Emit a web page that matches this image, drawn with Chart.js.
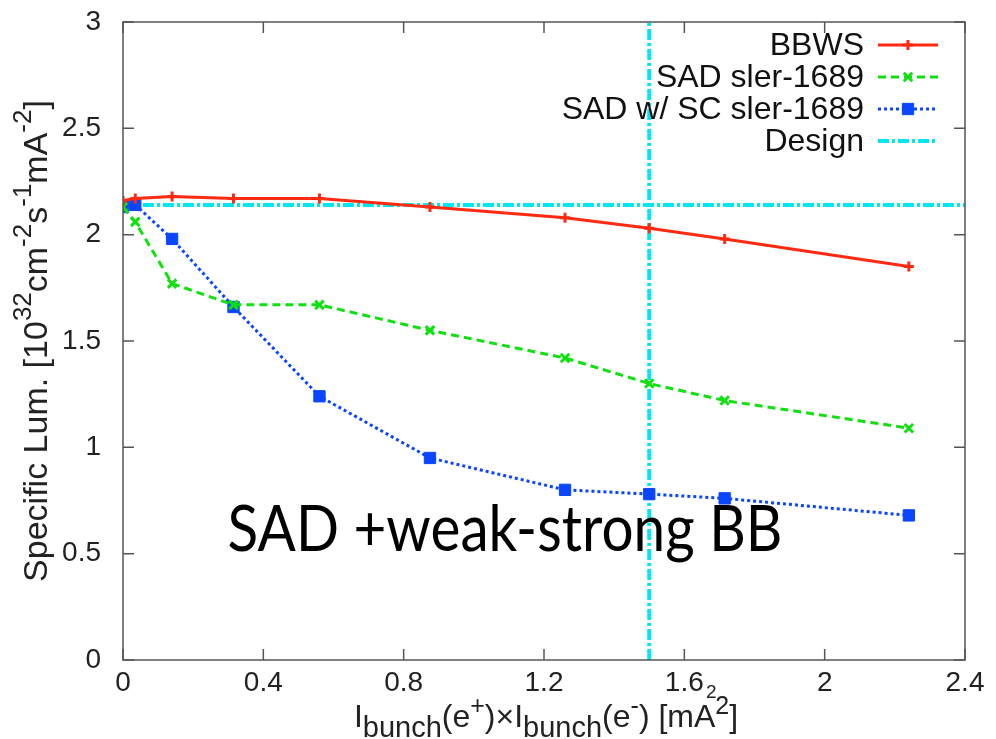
<!DOCTYPE html>
<html lang="en">
<head>
<meta charset="UTF-8">
<title>Specific luminosity</title>
<script src="https://cdn.jsdelivr.net/npm/chart.js"></script>
<style>
  body { margin: 0; background: #fff; }
  #lumi-chart { display: block; }
</style>
</head>
<body>
<canvas id="lumi-chart" width="996" height="739"></canvas>
<script>
// bunch current product I+ x I- [mA^2]
const currentProduct = [0, 0.035, 0.14, 0.315, 0.56, 0.875, 1.26, 1.5, 1.715, 2.24];
// specific luminosity [1e32 cm^-2 s^-1 mA^-2]
const lumBBWS  = [2.16, 2.17, 2.18, 2.17, 2.17, 2.13, 2.08, 2.03, 1.98, 1.85];
const lumSAD   = [2.13, 2.06, 1.77, 1.67, 1.67, 1.55, 1.42, 1.30, 1.22, 1.09];
const lumSADSC = [2.13, 2.14, 1.98, 1.66, 1.24, 0.95, 0.80, 0.78, 0.76, 0.68];
const designLum = 2.14;
const designCurrent = 1.5;

const xTicks = [0, 0.4, 0.8, 1.2, 1.6, 2, 2.4];
const yTicks = [0, 0.5, 1, 1.5, 2, 2.5, 3];
const seriesNames = ['BBWS', 'SAD sler-1689', 'SAD w/ SC sler-1689', 'Design'];
const overlayText = 'SAD +weak-strong BB';

const FONT = '"Liberation Sans", Arial, sans-serif';
const RED = '#ff2a10', GREEN = '#10e010', BLUE = '#0a46ff', CYAN = '#00e6f2';

const pts = ys => currentProduct.map((x, i) => ({ x: x, y: ys[i] }));

const datasets = [
  { label: seriesNames[0], data: pts(lumBBWS), borderColor: RED, backgroundColor: RED,
    borderWidth: 3, pointStyle: 'cross', pointRadius: 5, pointBorderWidth: 3 },
  { label: seriesNames[1], data: pts(lumSAD), borderColor: GREEN, backgroundColor: GREEN,
    borderWidth: 3, borderDash: [8, 5], pointStyle: 'crossRot', pointRadius: 6, pointBorderWidth: 3 },
  { label: seriesNames[2], data: pts(lumSADSC), borderColor: BLUE, backgroundColor: BLUE,
    borderWidth: 3, borderDash: [3, 3], pointStyle: 'rect', pointRadius: 8, pointBorderWidth: 1 },
  // design value: horizontal luminosity line and vertical current line
  { label: seriesNames[3], data: [{ x: 0, y: designLum }, { x: 2.4, y: designLum }],
    borderColor: CYAN, borderWidth: 4, borderDash: [11, 3, 3, 3], pointRadius: 0 },
  { label: '', data: [{ x: designCurrent, y: 0 }, { x: designCurrent, y: 3 }],
    borderColor: CYAN, borderWidth: 4, borderDash: [11, 3, 3, 3], pointRadius: 0 }
];

// text with sub/superscripts, centred on cx; sizes per part
function drawRich(ctx, parts, cx, y, size, subSize, subDy, supSize, supDy) {
  const px = p => (p.s === 'sub' ? subSize : p.s === 'sup' ? supSize : size);
  let total = 0;
  parts.forEach(p => { ctx.font = px(p) + 'px ' + FONT; p.w = ctx.measureText(p.t).width; total += p.w; });
  let x = cx - total / 2;
  ctx.textAlign = 'left';
  ctx.textBaseline = 'alphabetic';
  parts.forEach(p => {
    ctx.font = px(p) + 'px ' + FONT;
    const dy = p.s === 'sub' ? subDy : p.s === 'sup' ? -supDy : 0;
    ctx.fillText(p.t, x, y + dy);
    x += p.w;
  });
}

const framePlugin = {
  id: 'frame',
  afterDraw(chart) {
    const { ctx, chartArea: a, scales } = chart;
    ctx.save();
    // border and inward mirrored ticks
    ctx.strokeStyle = '#555';
    ctx.lineWidth = 1.5;
    ctx.strokeRect(a.left, a.top, a.right - a.left, a.bottom - a.top);
    const tl = 11;
    ctx.beginPath();
    xTicks.forEach(v => {
      const px = scales.x.getPixelForValue(v);
      ctx.moveTo(px, a.bottom); ctx.lineTo(px, a.bottom - tl);
      ctx.moveTo(px, a.top); ctx.lineTo(px, a.top + tl);
    });
    yTicks.forEach(v => {
      const py = scales.y.getPixelForValue(v);
      ctx.moveTo(a.left, py); ctx.lineTo(a.left + tl, py);
      ctx.moveTo(a.right, py); ctx.lineTo(a.right - tl, py);
    });
    ctx.stroke();

    // legend, gnuplot style: text right aligned, sample to the right
    const rows = [45, 77, 109, 141];
    ctx.font = '32px ' + FONT;
    ctx.fillStyle = '#111';
    ctx.textAlign = 'right';
    ctx.textBaseline = 'middle';
    datasets.slice(0, 4).forEach((ds, i) => {
      const y = rows[i];
      ctx.fillText(ds.label, 864, y + 1);
      ctx.save();
      ctx.strokeStyle = ds.borderColor;
      ctx.lineWidth = ds.borderWidth;
      ctx.setLineDash(ds.borderDash || []);
      ctx.beginPath();
      ctx.moveTo(878, y); ctx.lineTo(938, y);
      ctx.stroke();
      ctx.restore();
      if (ds.pointRadius) {
        ctx.save();
        ctx.strokeStyle = ds.borderColor;
        ctx.fillStyle = ds.backgroundColor;
        ctx.lineWidth = ds.pointBorderWidth;
        Chart.helpers.drawPoint(ctx, { pointStyle: ds.pointStyle, radius: ds.pointRadius, borderWidth: ds.pointBorderWidth }, 908, y);
        ctx.restore();
      }
    });

    // axis titles
    ctx.fillStyle = '#222';
    drawRich(ctx, [
      { t: 'I' }, { t: 'bunch', s: 'sub' }, { t: '(e' }, { t: '+', s: 'sup' },
      { t: ')\u00d7I' }, { t: 'bunch', s: 'sub' }, { t: '(e' }, { t: '-', s: 'sup' },
      { t: ') [mA' }, { t: '2', s: 'sup' }, { t: ']' }
    ], 546, 727, 32, 29, 10, 25, 13);
    ctx.font = '19px ' + FONT;
    ctx.textAlign = 'left';
    ctx.fillText('2', 706, 698);

    ctx.save();
    ctx.translate(47, 341);
    ctx.rotate(-Math.PI / 2);
    drawRich(ctx, [
      { t: 'Specific Lum. [10' }, { t: '32', s: 'sup' }, { t: 'cm' }, { t: '-2', s: 'sup' },
      { t: 's' }, { t: '-1', s: 'sup' }, { t: 'mA' }, { t: '-2', s: 'sup' }, { t: ']' }
    ], 0, 0, 34, 34, 0, 26, 16);
    ctx.restore();

    // slide annotation over the plot
    ctx.font = '63px Lato, "Open Sans", sans-serif';
    const w = ctx.measureText(overlayText).width;
    ctx.translate(505, 551);
    ctx.scale(555 / w, 1);
    ctx.fillStyle = '#000';
    ctx.textAlign = 'center';
    ctx.textBaseline = 'alphabetic';
    ctx.fillText(overlayText, 0, 0);
    ctx.restore();
  }
};

const tickFont = { family: FONT, size: 28 };

new Chart(document.getElementById('lumi-chart'), {
  type: 'line',
  data: { datasets: datasets },
  options: {
    responsive: false,
    animation: false,
    layout: { padding: { left: 0, right: 31, top: 22, bottom: 0 } },
    plugins: { legend: { display: false }, tooltip: { enabled: false } },
    elements: { line: { tension: 0 } },
    scales: {
      x: {
        type: 'linear', min: 0, max: 2.4,
        grid: { display: false }, border: { display: false },
        afterBuildTicks: s => { s.ticks = xTicks.map(v => ({ value: v })); },
        afterFit: s => { s.height = 79; s.paddingLeft = 0; s.paddingRight = 0; },
        ticks: { font: tickFont, color: '#222', padding: -2, maxRotation: 0,
                 callback: v => String(+v.toFixed(1)) }
      },
      y: {
        type: 'linear', min: 0, max: 3,
        grid: { display: false }, border: { display: false },
        afterBuildTicks: s => { s.ticks = yTicks.map(v => ({ value: v })); },
        afterFit: s => { s.width = 123; s.paddingTop = 0; s.paddingBottom = 0; },
        ticks: { font: tickFont, color: '#222', padding: 14,
                 callback: v => String(+v.toFixed(1)) }
      }
    }
  },
  plugins: [framePlugin]
});
</script>
</body>
</html>
